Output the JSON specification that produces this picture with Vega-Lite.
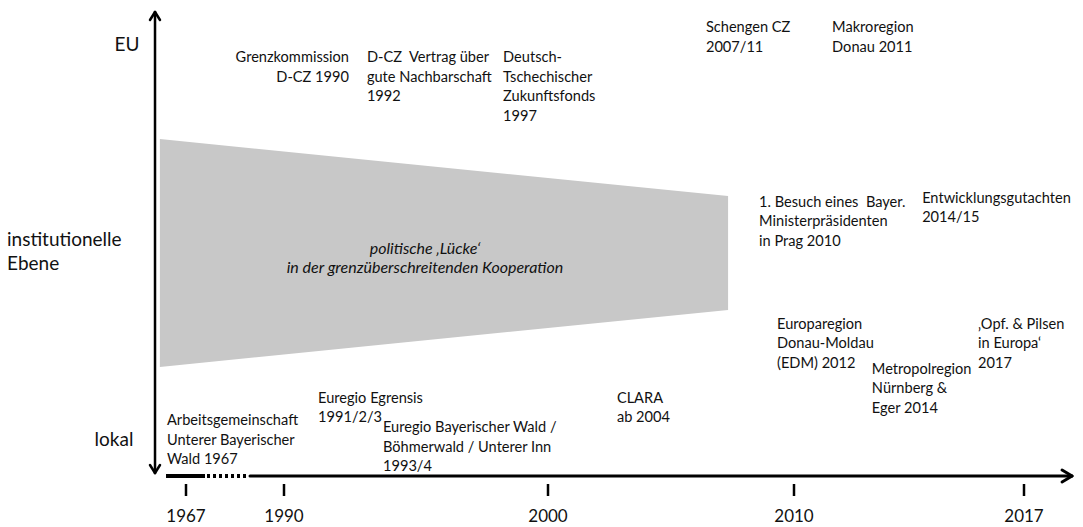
{
  "$schema": "https://vega.github.io/schema/vega-lite/v6.json",
  "width": 1083,
  "height": 527,
  "padding": 0,
  "autosize": {"type": "none"},
  "background": "white",
  "config": {"view": {"stroke": null}, "text": {"font": "Lato", "color": "#111111"}},
  "datasets": {
    "gap": [
      {"year": 1960.4, "top": 73.62, "bottom": 30.36},
      {"year": 2007.32, "top": 62.81, "bottom": 41.18}
    ],
    "vaxis": [
      {"x1": 1959.17, "y1": 97.72, "x2": 1959.17, "y2": 10.25},
      {"x1": 1957.9, "y1": 96.2, "x2": 1959.17, "y2": 97.72},
      {"x1": 1960.43, "y1": 96.2, "x2": 1959.17, "y2": 97.72},
      {"x1": 1957.9, "y1": 11.76, "x2": 1959.17, "y2": 10.25},
      {"x1": 1960.43, "y1": 11.76, "x2": 1959.17, "y2": 10.25}
    ],
    "thick": [{"x1": 1961.95, "y1": 9.68, "x2": 1971.46, "y2": 9.68}],
    "dotted": [{"x1": 1971.93, "y1": 9.68, "x2": 1981.32, "y2": 9.68}],
    "haxis": [
      {"x1": 1982.02, "y1": 9.68, "x2": 2018.6, "y2": 9.68},
      {"x1": 2018.29, "y1": 10.82, "x2": 2018.63, "y2": 9.68},
      {"x1": 2018.29, "y1": 8.54, "x2": 2018.63, "y2": 9.68}
    ],
    "ticks": [{"year": 1967}, {"year": 1990}, {"year": 2000}, {"year": 2010}, {"year": 2017}],
    "events": [
      {"year": 1993.14, "level": 90.51, "label": "D-CZ \u00a0Vertrag über\ngute Nachbarschaft\n1992"},
      {"year": 1998.3, "level": 90.51, "label": "Deutsch-\nTschechischer\nZukunftsfonds\n1997"},
      {"year": 2006.42, "level": 96.2, "label": "Schengen CZ\n2007/11"},
      {"year": 2011.16, "level": 96.2, "label": "Makroregion\nDonau 2011"},
      {"year": 2008.58, "level": 63.0, "label": "1. Besuch eines \u00a0Bayer.\nMinisterpräsidenten\nin Prag 2010"},
      {"year": 2013.9, "level": 63.76, "label": "Entwicklungsgutachten\n2014/15"},
      {"year": 2009.31, "level": 39.85, "label": "Europaregion\nDonau-Moldau\n(EDM) 2012"},
      {"year": 2012.37, "level": 31.31, "label": "Metropolregion\nNürnberg &\nEger 2014"},
      {"year": 2015.6, "level": 39.85, "label": "‚Opf. & Pilsen\nin Europa‘\n2017"},
      {"year": 1991.29, "level": 25.81, "label": "Euregio Egrensis\n1991/2/3"},
      {"year": 1993.75, "level": 20.3, "label": "Euregio Bayerischer Wald /\nBöhmerwald / Unterer Inn\n1993/4"},
      {"year": 2002.8, "level": 25.81, "label": "CLARA\nab 2004"},
      {"year": 1962.2, "level": 21.63, "label": "Arbeitsgemeinschaft\nUnterer Bayerischer\nWald 1967"}
    ],
    "eventsRight": [
      {"year": 1992.46, "level": 90.51, "label": "Grenzkommission\nD-CZ 1990"}
    ],
    "levels": [
      {"year": 1952.09, "level": 91.46, "label": "EU"},
      {"year": 1948.8, "level": 16.51, "label": "lokal"}
    ],
    "levelMid": [
      {"year": 1921.77, "level": 56.17, "label": "institutionelle\nEbene"}
    ],
    "gapLabel": [
      {"year": 1995.34, "level": 54.27, "label": "politische ‚Lücke‘\nin der grenzüberschreitenden Kooperation"}
    ]
  },
  "layer": [
    {
      "data": {"name": "gap"},
      "mark": {"type": "area", "color": "#c8c8c8", "interpolate": "linear"},
      "encoding": {
        "x": {"field": "year", "type": "quantitative", "scale": {"domain": [1920, 1967, 1990, 2000, 2010, 2017, 2019], "range": [0, 186, 284, 548, 794, 1024, 1083], "nice": false, "zero": false}, "axis": null},
        "y": {"field": "top", "type": "quantitative", "scale": {"domain": [0, 100], "nice": false, "zero": false}, "axis": null},
        "y2": {"field": "bottom"}
      }
    },
    {
      "data": {"name": "vaxis"},
      "mark": {"type": "rule", "color": "#000000", "strokeWidth": 2.5, "strokeCap": "round"},
      "encoding": {
        "x": {"field": "x1", "type": "quantitative"},
        "x2": {"field": "x2"},
        "y": {"field": "y1", "type": "quantitative"},
        "y2": {"field": "y2"}
      }
    },
    {
      "data": {"name": "thick"},
      "mark": {"type": "rule", "color": "#000000", "strokeWidth": 4},
      "encoding": {
        "x": {"field": "x1", "type": "quantitative"},
        "x2": {"field": "x2"},
        "y": {"field": "y1", "type": "quantitative"},
        "y2": {"field": "y2"}
      }
    },
    {
      "data": {"name": "dotted"},
      "mark": {"type": "rule", "color": "#000000", "strokeWidth": 4, "strokeDash": [3, 3]},
      "encoding": {
        "x": {"field": "x1", "type": "quantitative"},
        "x2": {"field": "x2"},
        "y": {"field": "y1", "type": "quantitative"},
        "y2": {"field": "y2"}
      }
    },
    {
      "data": {"name": "haxis"},
      "mark": {"type": "rule", "color": "#000000", "strokeWidth": 3, "strokeCap": "round"},
      "encoding": {
        "x": {"field": "x1", "type": "quantitative"},
        "x2": {"field": "x2"},
        "y": {"field": "y1", "type": "quantitative"},
        "y2": {"field": "y2"}
      }
    },
    {
      "data": {"name": "ticks"},
      "mark": {"type": "rule", "color": "#000000", "strokeWidth": 2.5},
      "encoding": {
        "x": {"field": "year", "type": "quantitative"},
        "y": {"datum": 8.16, "type": "quantitative"},
        "y2": {"datum": 5.88}
      }
    },
    {
      "data": {"name": "ticks"},
      "mark": {"type": "text", "fontSize": 17, "align": "center", "baseline": "middle"},
      "encoding": {
        "x": {"field": "year", "type": "quantitative"},
        "y": {"datum": 1.9, "type": "quantitative"},
        "text": {"field": "year", "type": "quantitative", "format": "d"}
      }
    },
    {
      "data": {"name": "events"},
      "mark": {"type": "text", "fontSize": 14.6, "align": "left", "baseline": "top", "lineBreak": "\n", "lineHeight": 19.5},
      "encoding": {
        "x": {"field": "year", "type": "quantitative"},
        "y": {"field": "level", "type": "quantitative"},
        "text": {"field": "label"}
      }
    },
    {
      "data": {"name": "eventsRight"},
      "mark": {"type": "text", "fontSize": 14.6, "align": "right", "baseline": "top", "lineBreak": "\n", "lineHeight": 19.5},
      "encoding": {
        "x": {"field": "year", "type": "quantitative"},
        "y": {"field": "level", "type": "quantitative"},
        "text": {"field": "label"}
      }
    },
    {
      "data": {"name": "levels"},
      "mark": {"type": "text", "fontSize": 19, "align": "center", "baseline": "middle"},
      "encoding": {
        "x": {"field": "year", "type": "quantitative"},
        "y": {"field": "level", "type": "quantitative"},
        "text": {"field": "label"}
      }
    },
    {
      "data": {"name": "levelMid"},
      "mark": {"type": "text", "fontSize": 19, "align": "left", "baseline": "top", "lineBreak": "\n", "lineHeight": 24},
      "encoding": {
        "x": {"field": "year", "type": "quantitative"},
        "y": {"field": "level", "type": "quantitative"},
        "text": {"field": "label"}
      }
    },
    {
      "data": {"name": "gapLabel"},
      "mark": {"type": "text", "fontSize": 16, "fontStyle": "italic", "align": "center", "baseline": "top", "lineBreak": "\n", "lineHeight": 19.5},
      "encoding": {
        "x": {"field": "year", "type": "quantitative"},
        "y": {"field": "level", "type": "quantitative"},
        "text": {"field": "label"}
      }
    }
  ]
}
